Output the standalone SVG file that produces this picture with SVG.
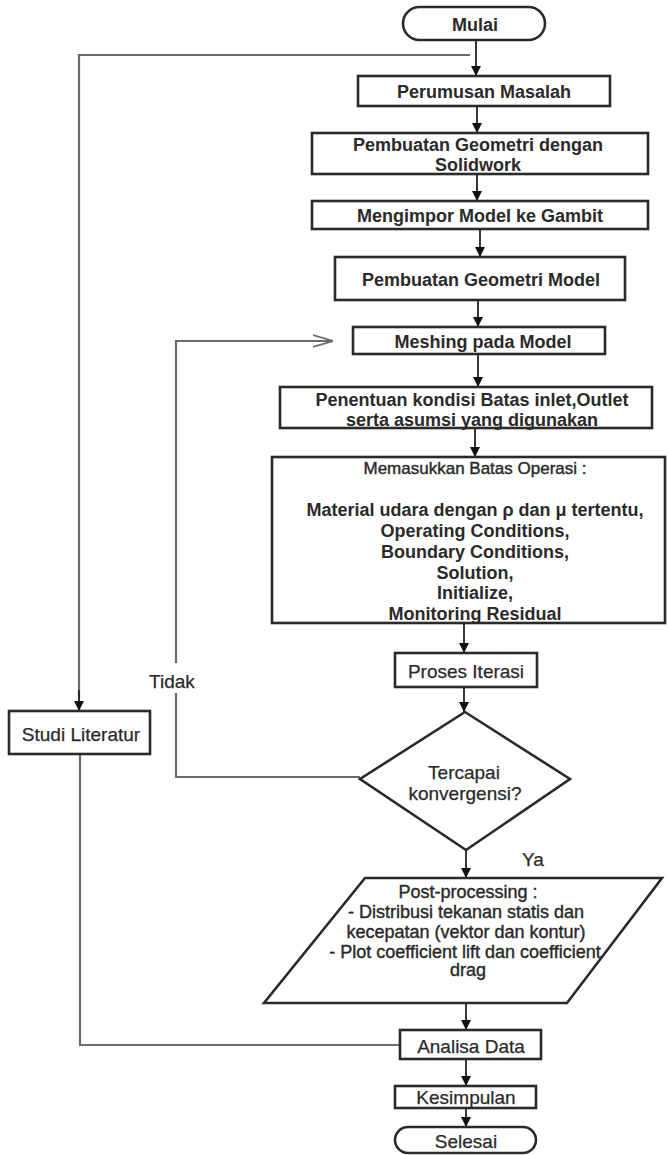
<svg xmlns="http://www.w3.org/2000/svg" width="669" height="1155" viewBox="0 0 669 1155">
<style>
.box{fill:#fff;stroke:#2a2a2a;stroke-width:2.6}
.b{font-family:"Liberation Sans",Arial,sans-serif;font-weight:bold;font-size:18px;fill:#2a2a2a;text-anchor:middle}
.r{font-family:"Liberation Sans",Arial,sans-serif;font-size:19px;fill:#2a2a2a;stroke:#2a2a2a;stroke-width:0.25;text-anchor:middle}
.p{font-family:"Liberation Sans",Arial,sans-serif;font-size:18px;fill:#2a2a2a;stroke:#2a2a2a;stroke-width:0.4;text-anchor:middle}
.ln{fill:none;stroke:#222;stroke-width:1.8}
.gl{fill:none;stroke:#6a6a6a;stroke-width:2.2}
</style>
<defs>
<marker id="ah" viewBox="0 0 10 10" refX="10" refY="5" markerWidth="10" markerHeight="10" markerUnits="userSpaceOnUse" orient="auto">
<path d="M0,0 L10,5 L0,10 Z" fill="#111"/>
</marker>
<marker id="oa" viewBox="0 0 20 14" refX="20" refY="7" markerWidth="20" markerHeight="14" markerUnits="userSpaceOnUse" orient="auto">
<path d="M0,1 L20,7 L0,13" fill="none" stroke="#6a6a6a" stroke-width="1.8"/>
</marker>
</defs>

<g id="connectors">
<line class="ln" x1="476" y1="40" x2="476" y2="76" marker-end="url(#ah)"/>
<path class="gl" d="M470,55 H79 V700"/>
<line class="ln" x1="79" y1="690" x2="79" y2="711" marker-end="url(#ah)"/>
<line class="ln" x1="477" y1="106" x2="477" y2="133" marker-end="url(#ah)"/>
<line class="ln" x1="477" y1="174" x2="477" y2="201" marker-end="url(#ah)"/>
<line class="ln" x1="480" y1="229" x2="480" y2="257" marker-end="url(#ah)"/>
<line class="ln" x1="478" y1="300" x2="478" y2="327" marker-end="url(#ah)"/>
<line class="ln" x1="478" y1="354" x2="478" y2="387" marker-end="url(#ah)"/>
<line class="ln" x1="475" y1="428" x2="475" y2="457" marker-end="url(#ah)"/>
<line class="ln" x1="464" y1="623" x2="464" y2="653" marker-end="url(#ah)"/>
<line class="ln" x1="464" y1="687" x2="464" y2="712" marker-end="url(#ah)"/>
<line class="ln" x1="466" y1="850" x2="466" y2="878" marker-end="url(#ah)"/>
<line class="ln" x1="466" y1="1003" x2="466" y2="1030" marker-end="url(#ah)"/>
<line class="ln" x1="466" y1="1059" x2="466" y2="1086" marker-end="url(#ah)"/>
<line class="ln" x1="466" y1="1108" x2="466" y2="1127" marker-end="url(#ah)"/>
<path class="gl" d="M80,754 V1045 H400"/>
<path class="gl" d="M360,777 H176 V693"/>
<path class="gl" d="M176,663 V341 H333" marker-end="url(#oa)"/>
<text class="r" x="172" y="688">Tidak</text>
<text class="r" x="533" y="866">Ya</text>
</g>

<g id="mulai">
<rect class="box" x="403" y="7" width="142" height="33" rx="16.5"/>
<text class="b" x="475" y="31">Mulai</text>
</g>
<g id="perumusan">
<rect class="box" x="358" y="76" width="252" height="30"/>
<text class="b" x="484" y="98">Perumusan Masalah</text>
</g>
<g id="solidwork">
<rect class="box" x="312" y="133" width="336" height="41"/>
<text class="b" x="478" y="151">Pembuatan Geometri dengan</text>
<text class="b" x="478" y="171">Solidwork</text>
</g>
<g id="mengimpor">
<rect class="box" x="312" y="201" width="336" height="28"/>
<text class="b" x="480" y="222">Mengimpor Model ke Gambit</text>
</g>
<g id="geometri-model">
<rect class="box" x="335" y="257" width="290" height="43"/>
<text class="b" x="481" y="286">Pembuatan Geometri Model</text>
</g>
<g id="meshing">
<rect class="box" x="353" y="327" width="252" height="27"/>
<text class="b" x="483" y="348">Meshing pada Model</text>
</g>
<g id="penentuan">
<rect class="box" x="280" y="387" width="372" height="41"/>
<text class="b" x="472" y="406">Penentuan kondisi Batas inlet,Outlet</text>
<text class="b" x="472" y="426">serta asumsi yang digunakan</text>
</g>
<g id="memasukkan">
<rect class="box" x="272" y="457" width="393" height="166"/>
<text class="p" x="475" y="474" style="font-size:17px">Memasukkan Batas Operasi :</text>
<text class="b" x="475" y="516">Material udara dengan ρ dan μ tertentu,</text>
<text class="b" x="475" y="537">Operating Conditions,</text>
<text class="b" x="475" y="558">Boundary Conditions,</text>
<text class="b" x="475" y="579">Solution,</text>
<text class="b" x="475" y="599">Initialize,</text>
<text class="b" x="475" y="620">Monitoring Residual</text>
</g>
<g id="proses">
<rect class="box" x="395" y="653" width="142" height="34"/>
<text class="r" x="466" y="678">Proses Iterasi</text>
</g>
<g id="konvergensi">
<polygon class="box" points="465,712 570,779 466,850 360,779"/>
<text class="r" x="464" y="779">Tercapai</text>
<text class="r" x="465" y="800">konvergensi?</text>
</g>
<g id="studi">
<rect class="box" x="9" y="711" width="141" height="43"/>
<text class="r" x="81" y="741">Studi Literatur</text>
</g>
<g id="postprocessing">
<polygon class="box" points="365,878 662,878 567,1003 264,1003"/>
<text class="p" x="468" y="898">Post-processing :</text>
<text class="p" x="466" y="918">- Distribusi tekanan statis dan</text>
<text class="p" x="466" y="938">kecepatan (vektor dan kontur)</text>
<text class="p" x="465" y="958">- Plot coefficient lift dan coefficient</text>
<text class="p" x="468" y="976">drag</text>
</g>
<g id="analisa">
<rect class="box" x="400" y="1030" width="141" height="29"/>
<text class="r" x="471" y="1053">Analisa Data</text>
</g>
<g id="kesimpulan">
<rect class="box" x="395" y="1086" width="141" height="22"/>
<text class="r" x="466" y="1104">Kesimpulan</text>
</g>
<g id="selesai">
<rect class="box" x="395" y="1127" width="141" height="26" rx="13"/>
<text class="r" x="466" y="1148">Selesai</text>
</g>
</svg>
